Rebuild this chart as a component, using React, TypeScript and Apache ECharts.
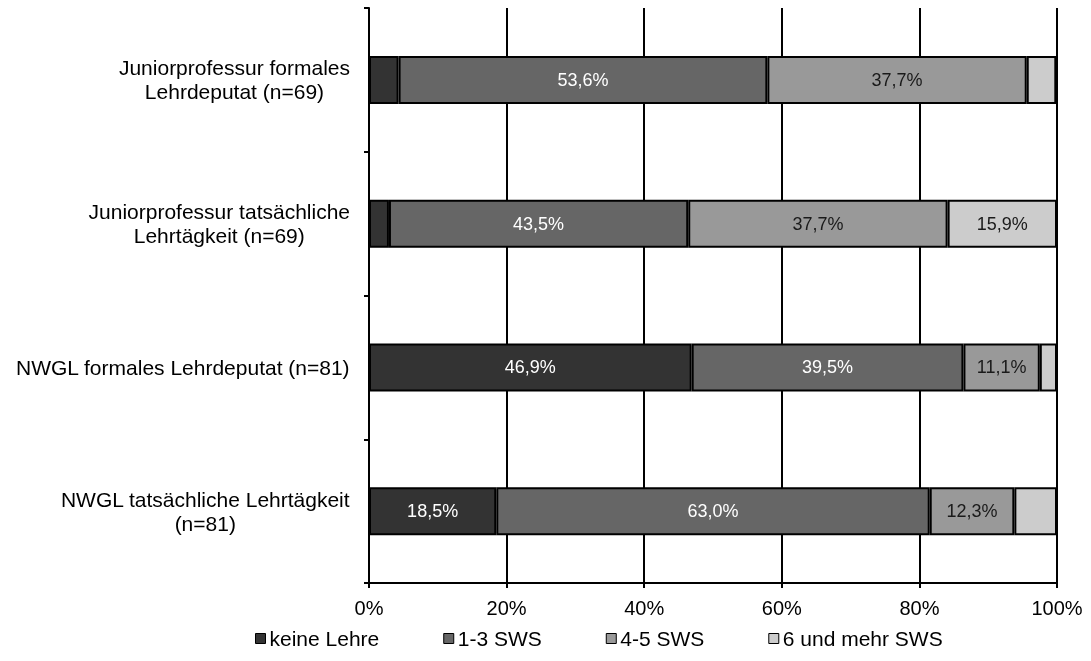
import React, { useEffect, useRef } from "react";
import * as echarts from "echarts";

const categories = [
  "Juniorprofessur formales\nLehrdeputat (n=69)",
  "Juniorprofessur tatsächliche\nLehrtägkeit (n=69)",
  "NWGL formales Lehrdeputat (n=81)",
  "NWGL tatsächliche Lehrtägkeit\n(n=81)",
];
const seriesNames = ["keine Lehre", "1-3 SWS", "4-5 SWS", "6 und mehr SWS"];
const keineLehre = [4.3, 2.9, 46.9, 18.5];
const sws13 = [53.6, 43.5, 39.5, 63.0];
const sws45 = [37.7, 37.7, 11.1, 12.3];
const sws6 = [4.3, 15.9, 2.5, 6.2];
const seriesValues = [keineLehre, sws13, sws45, sws6];
const colors = ["#333333", "#666666", "#999999", "#cccccc"];
const labelColors = ["#ffffff", "#ffffff", "#1a1a1a", "#1a1a1a"];
const xTicks = [0, 20, 40, 60, 80, 100];

const FONT = "'Liberation Sans', Arial, sans-serif";

export default function App() {
  const ref = useRef<HTMLDivElement>(null);
  useEffect(() => {
    if (!ref.current) return;
    const chart = echarts.init(ref.current, undefined, { renderer: "svg" });
    chart.setOption({
      animation: false,
      textStyle: { fontFamily: FONT },
      grid: { left: 369, right: 34, top: 8, bottom: 78, containLabel: false },
      legend: {
        data: seriesNames,
        left: 250,
        top: 623,
        icon: "rect",
        itemWidth: 10,
        itemHeight: 10,
        itemGap: 64,
        itemStyle: { borderColor: "#000", borderWidth: 1 },
        textStyle: { fontSize: 21, color: "#000", fontFamily: FONT, padding: [0, 0, 0, -1] },
        selectedMode: false,
      },
      xAxis: {
        type: "value",
        min: xTicks[0],
        max: xTicks[xTicks.length - 1],
        interval: 20,
        axisLine: { show: true, lineStyle: { color: "#000", width: 2 } },
        axisTick: { show: true, length: 5, lineStyle: { color: "#000", width: 2 } },
        splitLine: { show: true, lineStyle: { color: "#000", width: 2 } },
        axisLabel: {
          formatter: "{value}%",
          fontSize: 20,
          color: "#000",
          margin: 15,
          fontFamily: FONT,
        },
      },
      yAxis: {
        type: "category",
        data: categories,
        inverse: true,
        axisLine: { show: true, lineStyle: { color: "#000", width: 2 } },
        axisTick: { show: true, length: 5, interval: 0, lineStyle: { color: "#000", width: 2 } },
        splitLine: { show: false },
        axisLabel: {
          margin: 19,
          align: "right",
          formatter: (v: string) =>
            v
              .split("\n")
              .map((l) => "{c|" + l + "}")
              .join("\n"),
          rich: {
            c: {
              align: "center",
              fontSize: 21,
              lineHeight: 24,
              color: "#000",
              fontFamily: FONT,
            },
          },
        },
      },
      series: seriesNames.map((name, i) => ({
        name,
        type: "bar",
        stack: "total",
        barWidth: 48,
        data: seriesValues[i],
        itemStyle: { color: colors[i], borderColor: "#000", borderWidth: 2 },
        label: {
          show: true,
          position: "inside",
          fontSize: 18,
          fontFamily: FONT,
          color: labelColors[i],
          formatter: (p: any) =>
            p.value >= 10 ? p.value.toFixed(1).replace(".", ",") + "%" : "",
        },
      })),
    });
    return () => chart.dispose();
  }, []);
  return (
    <div
      ref={ref}
      style={{ position: "fixed", left: 0, top: 0, width: 1091, height: 661 }}
    />
  );
}
